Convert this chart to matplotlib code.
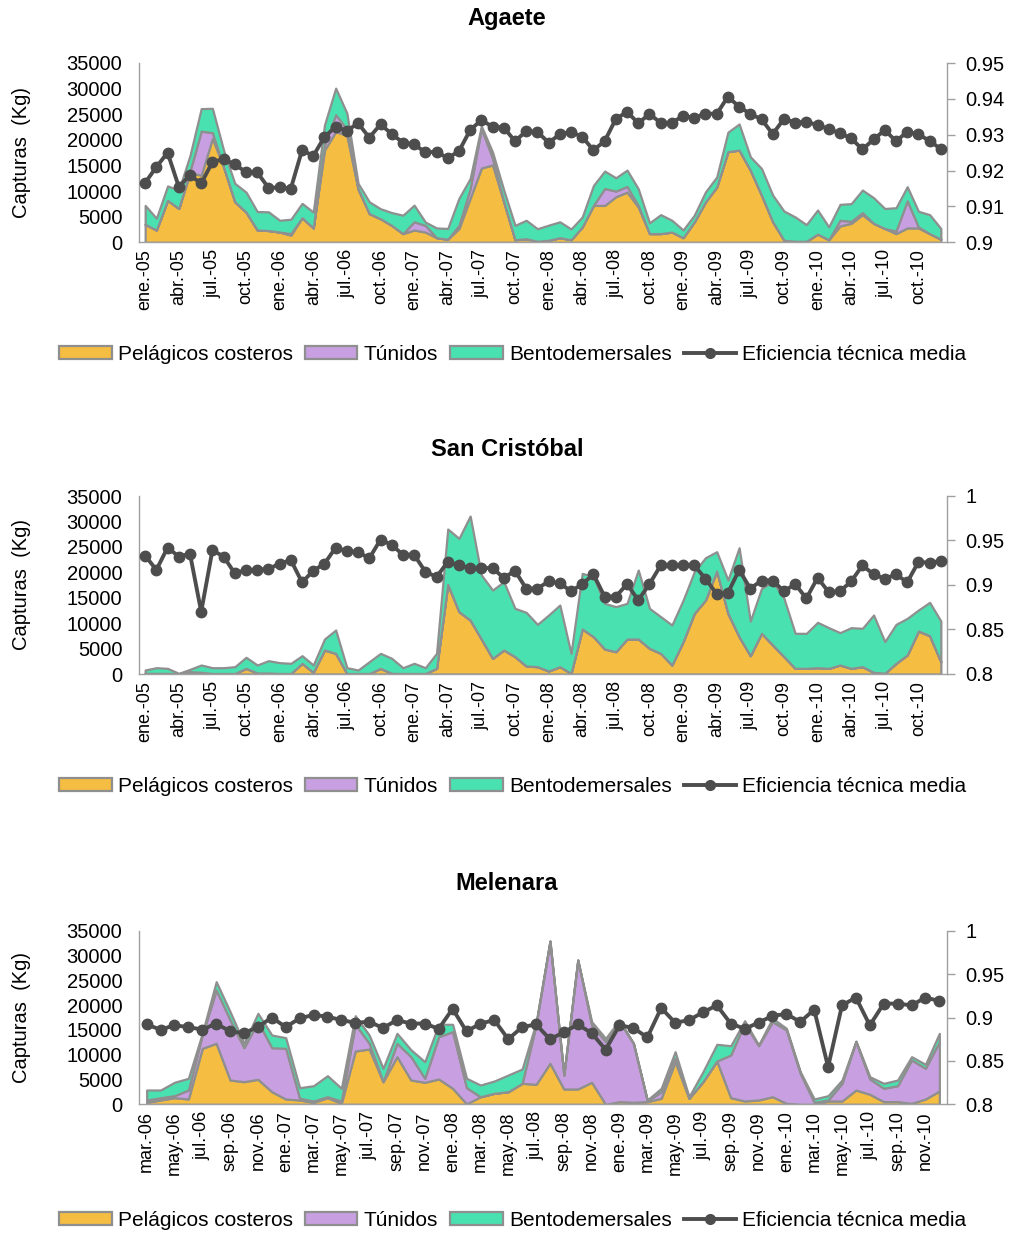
import numpy as np
import matplotlib
matplotlib.use("Agg")
import matplotlib.pyplot as plt
from matplotlib.patches import Patch
from matplotlib.lines import Line2D
from matplotlib.ticker import FuncFormatter

plt.rcParams['font.family'] = ['Liberation Sans', 'DejaVu Sans']

# ---------------- Agaete (ene.-05 .. dic.-10) ----------------
agaete_pel = [3500, 2400, 8200, 6600, 13600, 13100, 20300, 14700, 7900, 5900, 2400, 2300,
              2000, 1400, 4800, 2800, 18000, 21600, 20900, 10400, 5600, 4600, 3300, 1700,
              2400, 2000, 900, 600, 2700, 8600, 14500, 15100, 7900, 500, 700, 200,
              400, 900, 500, 3000, 7200, 7200, 8900, 9800, 6900, 1700, 1700, 2000,
              900, 4000, 7900, 10800, 17700, 18000, 14100, 9200, 4000, 400, 200, 200,
              1600, 500, 3200, 3700, 5400, 3700, 2700, 1700, 2800, 2800, 1700, 600]
agaete_tun = [0, 0, 0, 0, 300, 8600, 1100, 0, 0, 0, 0, 0,
              0, 300, 0, 0, 1000, 3300, 1200, 0, 0, 0, 0, 0,
              1600, 1300, 0, 0, 600, 1900, 7700, 1300, 0, 0, 0, 0,
              0, 0, 0, 0, 0, 3300, 1100, 1100, 300, 0, 0, 0,
              0, 0, 0, 0, 0, 0, 0, 0, 0, 0, 0, 0,
              0, 0, 1100, 400, 400, 0, 0, 500, 5300, 200, 0, 0]
agaete_ben = [3700, 2300, 2800, 3600, 3050, 4400, 4750, 3260, 3600, 3900, 3600, 3650,
              2300, 2800, 2800, 3100, 3900, 5200, 3100, 1100, 2300, 1950, 2500, 3600,
              3250, 650, 1900, 2100, 5300, 1950, 500, 1200, 2300, 2800, 3600, 2450,
              2950, 3100, 2100, 1950, 3900, 3400, 2600, 3200, 3250, 2100, 3700, 2300,
              1500, 1300, 1950, 1950, 3800, 5100, 2600, 5200, 5200, 5700, 4750, 3250,
              4700, 2500, 3100, 3450, 4400, 5000, 3900, 4550, 2750, 3050, 3700, 2100]
agaete_eff = [0.9166, 0.921, 0.925, 0.9155, 0.9187, 0.9164, 0.9224, 0.9232, 0.9217, 0.9196, 0.9195, 0.9152,
              0.9153, 0.915, 0.9257, 0.9241, 0.9294, 0.9322, 0.9311, 0.9332, 0.9292, 0.9329, 0.9302, 0.9278,
              0.9273, 0.9251, 0.9252, 0.9235, 0.9254, 0.9313, 0.9341, 0.9322, 0.932, 0.9282, 0.931, 0.9308,
              0.9278, 0.9301, 0.9308, 0.9294, 0.9257, 0.9282, 0.9344, 0.9364, 0.9332, 0.9358, 0.9333, 0.9333,
              0.9353, 0.9347, 0.9359, 0.9358, 0.9406, 0.9378, 0.9358, 0.9343, 0.9302, 0.9344, 0.9334, 0.9336,
              0.9327, 0.9316, 0.9304, 0.929, 0.9259, 0.9287, 0.9313, 0.9282, 0.9308, 0.9301, 0.9283, 0.926]

# ---------------- San Cristóbal (ene.-05 .. dic.-10) ----------------
sc_pel = [130, 130, 130, 50, 460, 330, 100, 100, 100, 1110, 200, 200,
          100, 100, 2100, 330, 4720, 4060, 100, 100, 100, 1110, 130, 100,
          100, 100, 1110, 17630, 12250, 10620, 6880, 3080, 4720, 3410, 1570, 1440,
          590, 1440, 130, 8850, 7340, 4920, 4390, 6880, 6880, 5050, 4060, 1770,
          6360, 11930, 14550, 20250, 11930, 7340, 3600, 8000, 5700, 3410, 1110, 1110,
          1250, 1110, 1770, 1110, 1440, 330, 150, 2100, 3740, 8450, 7540, 2420]
sc_tun = [0] * 72
sc_ben = [660, 1110, 980, 80, 460, 1440, 1140, 1140, 1340, 2170, 1570, 2420,
          2130, 2000, 1500, 1440, 2160, 4590, 1140, 690, 2320, 2950, 2950, 1140,
          2000, 1140, 2950, 10880, 14420, 20440, 12580, 13430, 13430, 9500, 10550, 8320,
          11010, 12120, 3930, 10940, 11800, 8970, 8850, 7010, 13570, 7860, 7210, 7860,
          8140, 8180, 8320, 3800, 6550, 17490, 6820, 8840, 12450, 11470, 6890, 6890,
          8910, 8000, 6360, 8000, 7540, 11270, 6210, 7660, 7200, 4130, 6550, 8000]
sc_eff = [0.933, 0.917, 0.942, 0.932, 0.935, 0.870, 0.939, 0.932, 0.913, 0.917, 0.917, 0.918,
          0.924, 0.928, 0.903, 0.916, 0.924, 0.942, 0.938, 0.937, 0.930, 0.951, 0.945, 0.934,
          0.934, 0.915, 0.909, 0.926, 0.922, 0.919, 0.919, 0.919, 0.908, 0.916, 0.896, 0.896,
          0.904, 0.902, 0.893, 0.901, 0.912, 0.887, 0.887, 0.901, 0.883, 0.901, 0.922, 0.922,
          0.922, 0.922, 0.907, 0.890, 0.891, 0.917, 0.896, 0.905, 0.905, 0.893, 0.901, 0.885,
          0.908, 0.892, 0.893, 0.904, 0.922, 0.912, 0.907, 0.912, 0.903, 0.926, 0.925, 0.927]

# ---------------- Melenara (mar.-06 .. dic.-10) ----------------
mel_pel = [400, 870, 1330, 1070, 11290, 12300, 4900, 4560, 5040, 2540,
           1070, 870, 400, 1330, 200, 10750, 11150, 4560, 9600, 4900,
           4440, 5100, 3230, 100, 1530, 2220, 2540, 4230, 4030, 8270,
           3090, 3090, 4440, 0, 540, 400, 540, 1210, 8590, 1210,
           4560, 8730, 1330, 670, 870, 1530, 200, 0, 0, 670,
           670, 2880, 2020, 540, 540, 200, 1070, 2680]
mel_tun = [470, 460, 410, 1810, 2680, 10740, 12100, 6850, 11610, 8870,
           10220, 340, 270, 200, 470, 5380, 1150, 0, 2700, 4700,
           800, 8530, 11410, 3250, 0, 0, 0, 0, 11970, 24630,
           2810, 25990, 11550, 12620, 16110, 11900, 130, 1330, 680, 0,
           0, 0, 8610, 15660, 10940, 15120, 14780, 6230, 400, 200,
           3560, 9740, 3080, 2690, 3210, 8730, 6190, 9940]
mel_ben = [2010, 1550, 2700, 2360, 340, 1680, 1670, 890, 1690, 2560,
           2140, 2140, 3080, 4240, 2560, 1730, 1670, 2700, 2010, 1400,
           3350, 2500, 1490, 1890, 2360, 2480, 3370, 2890, 500, 20,
           10, 10, 660, 680, 350, 0, 200, 690, 1340, 320,
           2010, 3370, 1870, 520, 140, 690, 340, 340, 670, 870,
           670, 140, 460, 1000, 1150, 670, 800, 1690]
mel_eff = [0.892, 0.886, 0.891, 0.889, 0.886, 0.893, 0.884, 0.882, 0.889, 0.900,
           0.889, 0.899, 0.903, 0.901, 0.897, 0.894, 0.895, 0.888, 0.897, 0.893,
           0.893, 0.887, 0.910, 0.884, 0.893, 0.897, 0.875, 0.889, 0.892, 0.875,
           0.883, 0.892, 0.882, 0.863, 0.891, 0.888, 0.877, 0.911, 0.894, 0.897,
           0.906, 0.914, 0.893, 0.887, 0.894, 0.902, 0.904, 0.895, 0.909, 0.843,
           0.914, 0.923, 0.891, 0.916, 0.916, 0.914, 0.923, 0.919]

# tick labels (every 3 months for 2005-2010, every 2 months for Melenara)
labels_0510 = ['ene.-05', 'abr.-05', 'jul.-05', 'oct.-05', 'ene.-06', 'abr.-06', 'jul.-06', 'oct.-06',
               'ene.-07', 'abr.-07', 'jul.-07', 'oct.-07', 'ene.-08', 'abr.-08', 'jul.-08', 'oct.-08',
               'ene.-09', 'abr.-09', 'jul.-09', 'oct.-09', 'ene.-10', 'abr.-10', 'jul.-10', 'oct.-10']
labels_mel = ['mar.-06', 'may.-06', 'jul.-06', 'sep.-06', 'nov.-06', 'ene.-07', 'mar.-07', 'may.-07',
              'jul.-07', 'sep.-07', 'nov.-07', 'ene.-08', 'mar.-08', 'may.-08', 'jul.-08', 'sep.-08',
              'nov.-08', 'ene.-09', 'mar.-09', 'may.-09', 'jul.-09', 'sep.-09', 'nov.-09', 'ene.-10',
              'mar.-10', 'may.-10', 'jul.-10', 'sep.-10', 'nov.-10']

series_names = ['Pelágicos costeros', 'Túnidos', 'Bentodemersales', 'Eficiencia técnica media']

C_PEL = '#F5BD41'
C_TUN = '#C8A0E2'
C_BEN = '#4AE1B0'
C_EDGE = '#8F8F8F'
C_EFF = '#4D4D4D'
C_AXIS = '#A0A0A0'

W, H = 1012, 1233
fig = plt.figure(figsize=(W / 100, H / 100), dpi=100)

AX_L, AX_R = 139, 947


def panel(top, bottom, title, title_y, legend_y, pel, tun, ben, eff,
          labels, label_step, eff_lim, eff_ticks):
    ax = fig.add_axes([AX_L / W, 1 - bottom / H, (AX_R - AX_L) / W, (bottom - top) / H])
    n = len(pel)
    x = np.arange(n)
    t1 = np.array(pel, dtype=float)
    t2 = t1 + np.array(tun, dtype=float)
    t3 = t2 + np.array(ben, dtype=float)
    ax.fill_between(x, 0, t1, facecolor=C_PEL, edgecolor=C_EDGE, lw=1.6, zorder=2)
    ax.fill_between(x, t1, t2, facecolor=C_TUN, edgecolor=C_EDGE, lw=1.6, zorder=2)
    ax.fill_between(x, t2, t3, facecolor=C_BEN, edgecolor=C_EDGE, lw=1.6, zorder=2)
    ax.set_xlim(-0.55, n - 0.45)
    ax.set_ylim(0, 35000)
    ax.set_yticks(np.arange(0, 35001, 5000))
    ax.set_xticks(x[::label_step])
    ax.set_xticklabels(labels, rotation=90, fontsize=13)
    ax.tick_params(axis='x', length=0, pad=5)
    ax.tick_params(axis='y', length=0, pad=12, labelsize=14.5)
    for s in ('top', 'right'):
        ax.spines[s].set_visible(False)
    for s in ('left', 'bottom'):
        ax.spines[s].set_color(C_AXIS)
        ax.spines[s].set_linewidth(1.0)

    ax2 = ax.twinx()
    ax2.plot(x, eff, color=C_EFF, lw=2.8, marker='o', ms=7.5, zorder=5)
    ax2.set_ylim(*eff_lim)
    ax2.set_yticks(eff_ticks)
    ax2.yaxis.set_major_formatter(FuncFormatter(lambda v, p: '%g' % round(v, 3)))
    ax2.tick_params(axis='y', length=6, width=1, color=C_AXIS, pad=7, labelsize=14.5)
    for s in ('top', 'left', 'bottom'):
        ax2.spines[s].set_visible(False)
    ax2.spines['right'].set_color(C_AXIS)
    ax2.spines['right'].set_linewidth(1.0)

    fig.text(22 / W, 1 - (top + bottom) / 2 / H, 'Capturas  (Kg)', rotation=90,
             ha='center', va='center', fontsize=14.5)
    fig.text(507 / W, 1 - title_y / H, title, ha='center', va='center',
             fontsize=17, fontweight='bold')

    handles = [Patch(facecolor=C_PEL, edgecolor=C_EDGE, lw=1.6),
               Patch(facecolor=C_TUN, edgecolor=C_EDGE, lw=1.6),
               Patch(facecolor=C_BEN, edgecolor=C_EDGE, lw=1.6),
               Line2D([], [], color=C_EFF, lw=2.8, marker='o', ms=7)]
    fig.legend(handles, series_names, loc='center', bbox_to_anchor=(513 / W, 1 - legend_y / H),
               ncol=4, frameon=False, fontsize=15, handlelength=2.5, handleheight=0.6,
               handletextpad=0.3, columnspacing=0.6, borderaxespad=0, borderpad=0)


panel(63, 242.3, 'Agaete', 18, 354, agaete_pel, agaete_tun, agaete_ben, agaete_eff,
      labels_0510, 3, (0.9, 0.95), np.arange(0.90, 0.9501, 0.01))
panel(496, 674, 'San Cristóbal', 449, 786, sc_pel, sc_tun, sc_ben, sc_eff,
      labels_0510, 3, (0.8, 1.0), np.arange(0.80, 1.0001, 0.05))
panel(930.7, 1104.3, 'Melenara', 884, 1220, mel_pel, mel_tun, mel_ben, mel_eff,
      labels_mel, 2, (0.8, 1.0), np.arange(0.80, 1.0001, 0.05))

fig.savefig('out.png', dpi=100)
